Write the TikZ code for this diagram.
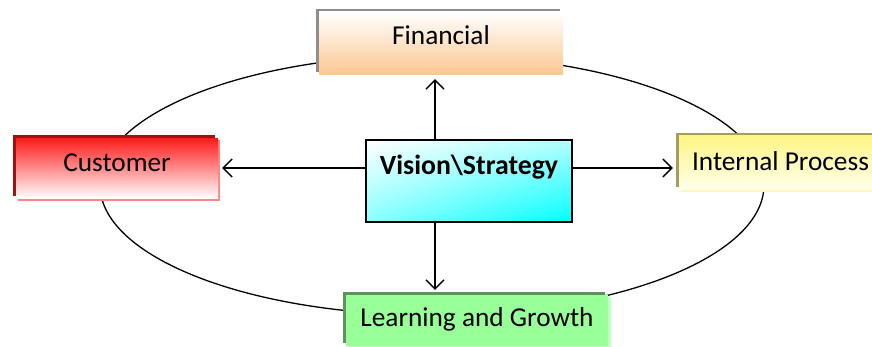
\documentclass[tikz,border=0pt]{standalone}
\usepackage{fontspec}
\setmainfont{Carlito}
\usetikzlibrary{arrows.meta,backgrounds,calc,shadings}
\definecolor{finc}{HTML}{FBC690}
\definecolor{findark}{HTML}{8E8E8E}
\definecolor{custc}{HTML}{FF1C1C}
\definecolor{custdark}{HTML}{A01212}
\definecolor{custlight}{HTML}{FF8585}
\definecolor{intc}{HTML}{FFF585}
\definecolor{intb}{HTML}{FFFFEC}
\definecolor{intdark}{HTML}{A39E60}
\definecolor{intlight}{HTML}{FFF8B8}
\definecolor{lrnc}{HTML}{99FF99}
\definecolor{lrndark}{HTML}{5E935E}
\definecolor{lrnlight}{HTML}{C2FFC2}
\begin{document}
\begin{tikzpicture}[x=1pt,y=-1pt,
  box/.style={inner sep=0pt, font=\fontsize{27.3}{30}\selectfont},
  arr/.style={line width=1.3pt, -{Straight Barb[length=9pt,width=18pt,line width=1.3pt]}},
  ring/.style={line width=1.3pt}]
\useasboundingbox (0,0) rectangle (872,347);
% boxes
\node[box, minimum width=244, minimum height=63, top color=white, bottom color=finc] (fin) at (441,43.5) {\raisebox{17pt}{Financial}};
\node[box, minimum width=202, minimum height=60, top color=custc, bottom color=white] (cust) at (117,168.5) {\raisebox{12pt}{Customer}};
\node[box, minimum width=203, minimum height=54, top color=intc, bottom color=intb] (int) at (780.5,163) {\raisebox{4pt}{Internal Process}};
\node[box, minimum width=262, minimum height=51, fill=lrnc] (lrn) at (477,320.5) {\raisebox{6pt}{Learning and Growth}};
\node[box, minimum width=206, minimum height=82, draw=black, line width=2pt,
  upper left=white, upper right=cyan!30, lower left=cyan!45, lower right=cyan] (vis) at (469,181) {};
\node[font=\fontsize{27.8}{30}\bfseries\selectfont, anchor=center] (vist) at ($(vis.north)+(0,28)$) {Vision\textbackslash Strategy};
\begin{scope}[on background layer]
  \draw[ring] (432,185) ellipse [x radius=332, y radius=130];
  \fill[findark] ($(fin.north west)+(-3,-3)$) rectangle ($(fin.south east)+(-3,-3)$);
  \fill[custlight] ($(cust.north west)+(2,2)$) rectangle ($(cust.south east)+(2,2)$);
  \fill[custdark] ($(cust.north west)+(-3,-3)$) rectangle ($(cust.south east)+(-3,-3)$);
  \fill[intlight] ($(int.north west)+(2,2)$) rectangle ($(int.south east)+(2,2)$);
  \fill[intdark] ($(int.north west)+(-3,-3)$) rectangle ($(int.south east)+(-3,-3)$);
  \fill[lrnlight] ($(lrn.north west)+(3,2)$) rectangle ($(lrn.south east)+(3,2)$);
  \fill[lrndark] ($(lrn.north west)+(-3,-3)$) rectangle ($(lrn.south east)+(-3,-3)$);
\end{scope}
% arrows
\coordinate (ax) at (435,0);
\coordinate (ay) at (0,168);
\draw[arr] (vis.north -| ax) -- ($(fin.south -| ax)+(0,4)$);
\draw[arr] (vis.south -| ax) -- ($(lrn.north -| ax)+(0,-5)$);
\draw[arr] (vis.west |- ay) -- ($(cust.east |- ay)+(4,0)$);
\draw[arr] (vis.east |- ay) -- ($(int.west |- ay)+(-6,0)$);
\end{tikzpicture}
\end{document}
